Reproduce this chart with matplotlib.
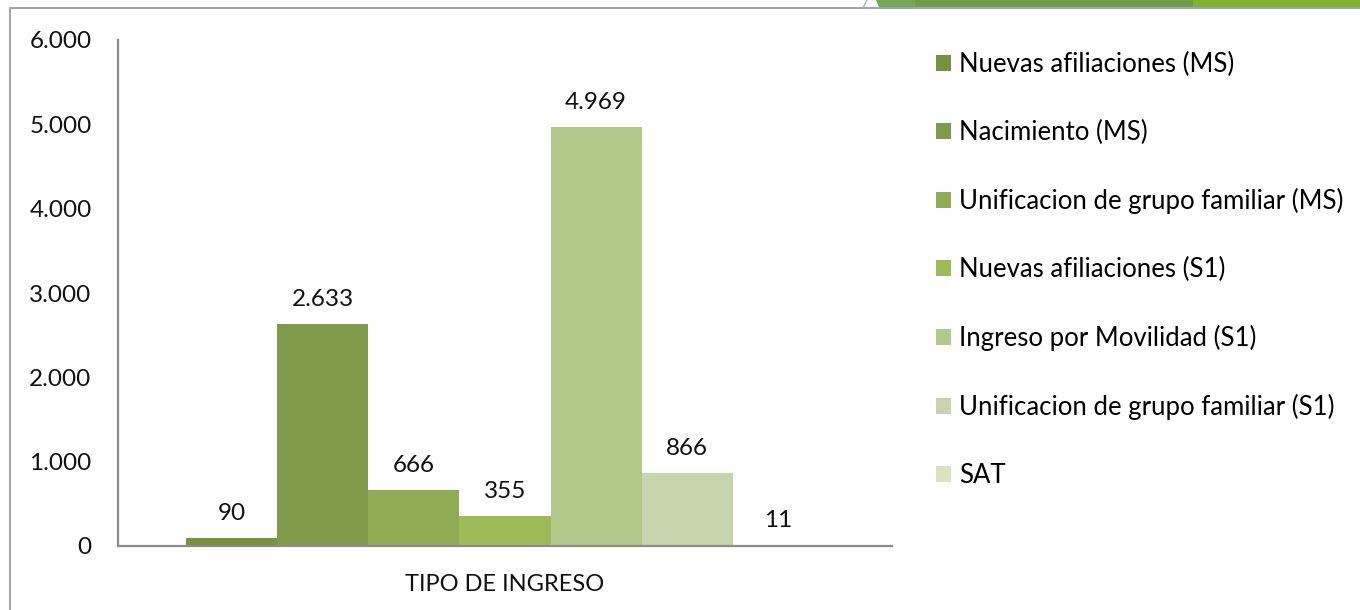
import matplotlib.pyplot as plt
from matplotlib.patches import Polygon
from matplotlib.lines import Line2D
from matplotlib.ticker import FuncFormatter

plt.rcParams['font.family'] = ['Lato', 'DejaVu Sans']

category = 'TIPO DE INGRESO'
series = ['Nuevas afiliaciones (MS)', 'Nacimiento (MS)',
          'Unificacion de grupo familiar (MS)', 'Nuevas afiliaciones (S1)',
          'Ingreso por Movilidad (S1)', 'Unificacion de grupo familiar (S1)',
          'SAT']
values = [90, 2633, 666, 355, 4969, 866, 11]
colors = ['#77923e', '#7f9a4a', '#8fac54', '#9dbb59', '#b3c98b', '#c6d5ab', '#d7e4be']

fig = plt.figure(figsize=(13.6, 6.1), dpi=100)
ax = fig.add_axes([118 / 1360, 1 - 546 / 610, (892 - 118) / 1360, (546 - 40) / 610])

# excel style: gap width 150% of one bar
n = len(values)
w = 1 / (n + 1.5)
for i, (name, v, c) in enumerate(zip(series, values, colors)):
    x = (i - (n - 1) / 2) * w
    ax.bar(x, v, width=w, color=c, label=name)
    ax.annotate(f'{v:,}'.replace(',', '.'), (x, v), xytext=(0, 13),
                textcoords='offset points', ha='center', va='baseline',
                fontsize=17.5, color='#111111')

ax.set_xlim(-0.5, 0.5)
ax.set_ylim(0, 6000)
ax.set_yticks(range(0, 6001, 1000))
ax.yaxis.set_major_formatter(FuncFormatter(lambda v, p: f'{int(v):,}'.replace(',', '.')))
ax.set_xticks([0])
ax.set_xticklabels([category])
ax.tick_params(axis='y', length=0, pad=19, labelsize=17.5, labelcolor='#111111')
ax.tick_params(axis='x', length=0, pad=20, labelsize=17, labelcolor='#111111')
for s in ['top', 'right']:
    ax.spines[s].set_visible(False)
for s in ['left', 'bottom']:
    ax.spines[s].set_color('#8c8c8c')
    ax.spines[s].set_linewidth(1.6)

ax.legend(loc='upper left', bbox_to_anchor=(936 / 1360, 1 - 52 / 610),
          bbox_transform=fig.transFigure, frameon=False, fontsize=18.5,
          handlelength=0.58, handleheight=0.58, handletextpad=0.31,
          labelspacing=1.67, borderaxespad=0, borderpad=0)

# slide frame and header strip
fig.add_artist(Line2D([10 / 1360, 10 / 1360, 1], [0, 1 - 8 / 610, 1 - 8 / 610],
                      transform=fig.transFigure, color='#a4a4ac', lw=1.5))
fig.add_artist(Line2D([863 / 1360, 867 / 1360], [1 - 8 / 610, 1],
                      transform=fig.transFigure, color='#b0b0b0', lw=1))
strip = [(876, 915, '#76a656'), (915, 1193, '#6f9b4f'), (1193, 1361, '#83b22f')]
for x0, x1, c in strip:
    sl = 3 if x0 == 876 else 0
    pts = [(x0 / 1360, 1), (x1 / 1360, 1), (x1 / 1360, 1 - 7 / 610), ((x0 + sl) / 1360, 1 - 7 / 610)]
    fig.add_artist(Polygon(pts, closed=True, transform=fig.transFigure, color=c, lw=0))

fig.savefig('out.png', dpi=100)
